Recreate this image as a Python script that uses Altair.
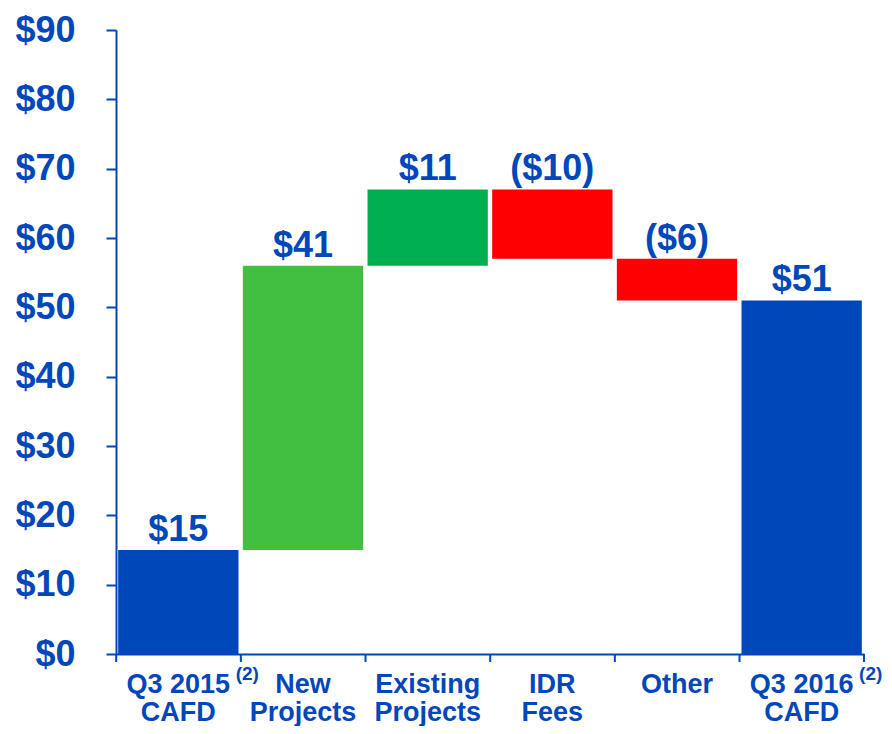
import altair as alt
import pandas as pd

categories = ["Q3 2015|CAFD", "New|Projects", "Existing|Projects", "IDR|Fees", "Other", "Q3 2016|CAFD"]
amounts = [15, 41, 11, -10, -6, 51]
kinds = ["total", "delta", "delta", "delta", "delta", "total"]
value_labels = ["$15", "$41", "$11", "($10)", "($6)", "$51"]
bar_colors = ["#0047BA", "#40BF40", "#00B050", "#FF0000", "#FF0000", "#0047BA"]
footnotes = ["(2)", "", "", "", "", "(2)"]
y_ticks = [0, 10, 20, 30, 40, 50, 60, 70, 80, 90]

BLUE = "#0047BA"
FONT = "Liberation Sans"
W, H = 748, 624

rows = []
running = 0
for c, a, k, lab, fn in zip(categories, amounts, kinds, value_labels, footnotes):
    if k == "total":
        s, e = 0, a
        running = a
    else:
        s, e = running, running + a
        running = running + a
    rows.append({"cat": c, "start": s, "end": e, "top": max(s, e), "label": lab, "fn": fn})
df = pd.DataFrame(rows)

xscale = alt.Scale(paddingInner=0.035, paddingOuter=0.0175)
yscale = alt.Scale(domain=[0, 90], nice=False)

base = alt.Chart(df)

bars = base.mark_bar().encode(
    x=alt.X("cat:N", sort=categories, scale=xscale, title=None,
            axis=alt.Axis(labelExpr="split(datum.label, '|')", labelAngle=0,
                          labelFont=FONT, labelFontSize=27, labelFontWeight="bold",
                          labelColor=BLUE, labelLineHeight=28, labelPadding=17,
                          ticks=False, tickSize=0, domainColor=BLUE, domainWidth=2)),
    y=alt.Y("start:Q", scale=yscale, title=None,
            axis=alt.Axis(values=y_ticks, labelExpr="'$' + datum.value", grid=False,
                          labelFont=FONT, labelFontSize=36, labelFontWeight="bold",
                          labelColor=BLUE, labelPadding=31, tickSize=10, tickWidth=2,
                          tickColor=BLUE, domainColor=BLUE, domainWidth=2)),
    y2="end:Q",
    color=alt.Color("cat:N", scale=alt.Scale(domain=categories, range=bar_colors), legend=None),
)

labels = base.mark_text(font=FONT, fontSize=36, fontWeight="bold", color=BLUE,
                        baseline="alphabetic", dy=-9).encode(
    x=alt.X("cat:N", sort=categories),
    y=alt.Y("top:Q"),
    text="label:N",
)

notes = base.mark_text(font=FONT, fontSize=19, fontWeight="bold", color=BLUE,
                       baseline="alphabetic", dx=69).encode(
    x=alt.X("cat:N", sort=categories),
    y=alt.value(H + 26),
    text="fn:N",
)

xticks = base.mark_rule(color=BLUE, strokeWidth=2, xOffset=-2).encode(
    x=alt.X("cat:N", sort=categories, bandPosition=0),
    y=alt.value(H),
    y2=alt.value(H + 8),
)

last_tick = base.mark_rule(color=BLUE, strokeWidth=2).encode(
    x=alt.value(W),
    y=alt.value(H),
    y2=alt.value(H + 8),
)

chart = alt.layer(bars, labels, notes, xticks, last_tick).properties(
    width=W, height=H,
    autosize=alt.AutoSizeParams(type="none"),
    padding={"left": 108, "top": 22, "right": 20, "bottom": 72},
).configure_view(stroke=None)

chart.save("out.html", embed_options={"renderer": "svg", "actions": False})
